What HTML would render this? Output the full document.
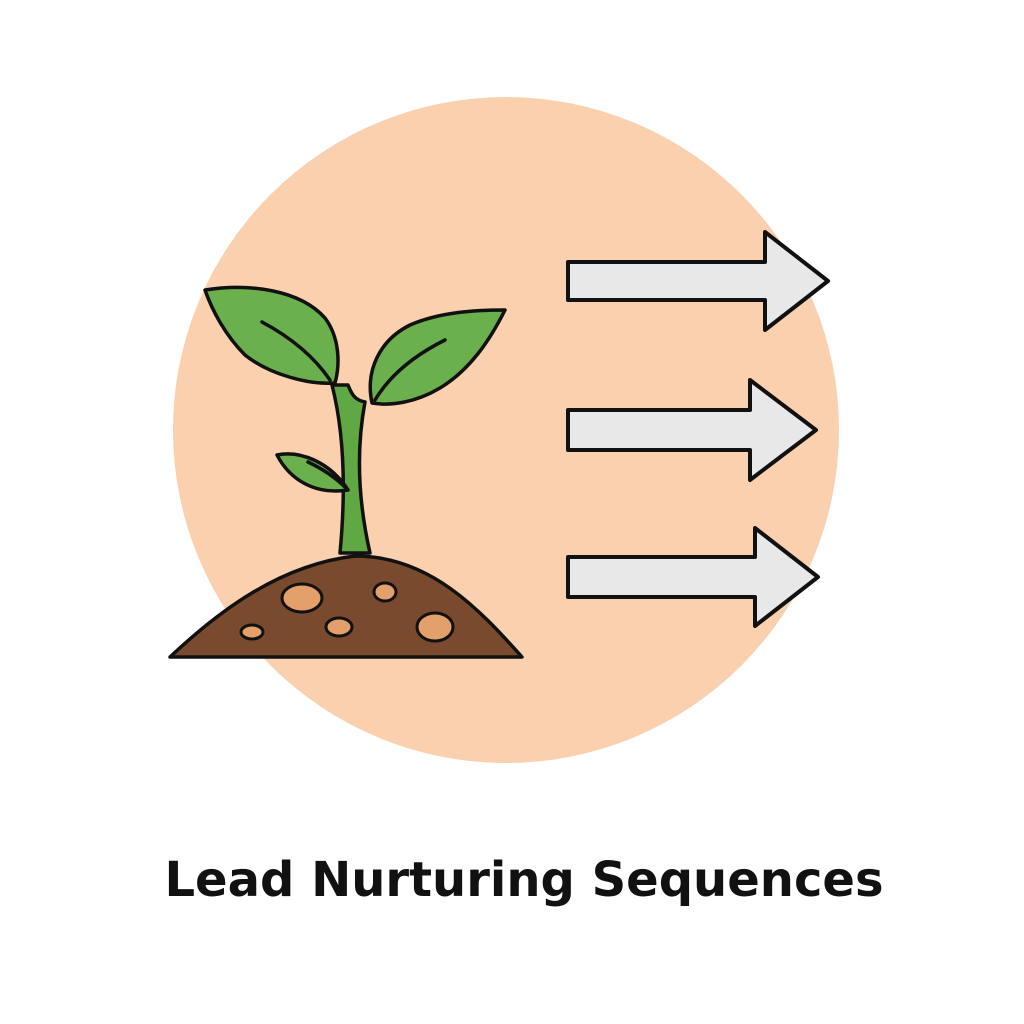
<!DOCTYPE html>
<html><head><meta charset="utf-8"><style>
html,body{margin:0;padding:0;background:#fff;}
.t{position:absolute;left:12px;width:1024px;top:852px;text-align:center;font-family:"DejaVu Sans","Liberation Sans",sans-serif;font-weight:bold;font-size:48px;color:#111;}
</style></head><body>
<div style="position:relative;width:1024px;height:1024px;overflow:hidden">
<svg width="1024" height="1024" style="position:absolute;left:0;top:0">
<circle cx="506" cy="430" r="333" fill="#fbd0ae"/>
<g fill="#e8e8e8" stroke="#111" stroke-width="4" stroke-linejoin="round">
<polygon points="568,262 765,262 765,232 828,281 765,330 765,300 568,300"/>
<polygon points="568,410 750,410 750,380 816,430 750,480 750,450 568,450"/>
<polygon points="568,557 755,557 755,528 818,577 755,626 755,597 568,597"/>
</g>
<g stroke="#111" stroke-width="3.5" stroke-linejoin="round" stroke-linecap="round">
<path d="M340,553 C345,500 346,440 332,385 L348,385 C352,395 355,400 365,402 C356,450 358,500 370,553 Z" fill="#5fa844"/>
<path d="M335,383 C310,385 270,375 245,355 C225,335 212,310 205,290 C250,283 300,290 325,318 C340,338 340,365 335,383 Z" fill="#6ab04c"/>
<path d="M262,322 C292,338 315,358 330,380" fill="none"/>
<path d="M372,403 C365,370 380,340 410,325 C440,312 475,310 505,310 C490,340 470,370 440,388 C415,403 390,406 372,403 Z" fill="#6ab04c"/>
<path d="M445,340 C415,355 390,375 375,400" fill="none"/>
<path d="M348,490 C330,462 300,450 277,455 C290,480 315,495 348,490 Z" fill="#6ab04c"/>
<path d="M308,462 C325,470 338,480 346,488" fill="none"/>
<path d="M170,657 C220,610 280,565 355,556 C430,556 480,610 522,657 Z" fill="#7a4a2e"/>
<g fill="#e3a06a" stroke-width="3">
<ellipse cx="302" cy="598" rx="20" ry="14"/>
<ellipse cx="385" cy="592" rx="11" ry="9"/>
<ellipse cx="252" cy="632" rx="11" ry="7"/>
<ellipse cx="339" cy="627" rx="13" ry="9"/>
<ellipse cx="435" cy="627" rx="18" ry="14"/>
</g>
</g>
</svg>
<div class="t">Lead Nurturing Sequences</div>
</div>
</body></html>
